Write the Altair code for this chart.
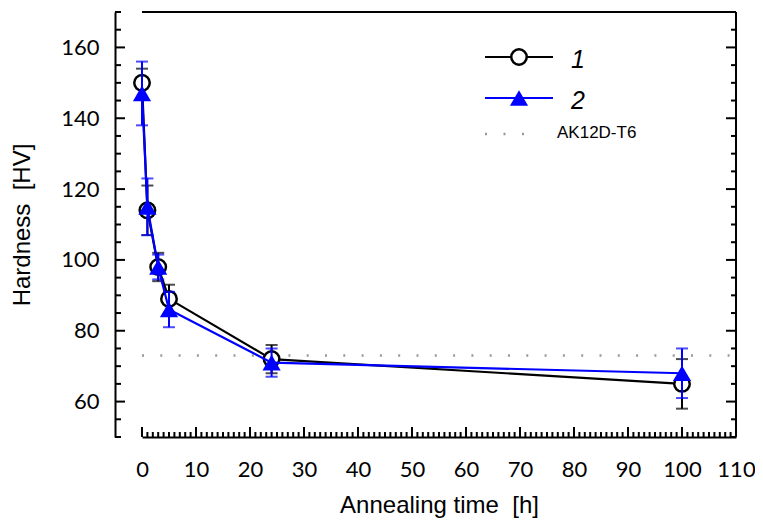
import altair as alt
import pandas as pd

# ---- data ----
time_h = [0, 1, 3, 5, 24, 100]
hv_1 = [150, 114, 98, 89, 72, 65]
err_1 = [4, 7, 4, 4, 4, 7]
hv_2 = [147, 115, 98, 86, 71, 68]
err_2 = [9, 8, 3.5, 5, 4, 7]
ref_value = 73
ref_label = "AK12D-T6"
series_labels = ["1", "2"]
x_title = "Annealing time\u00a0 [h]"
y_title = "Hardness\u00a0 [HV]"
x_major = list(range(0, 111, 10))
x_minor = list(range(0, 111, 1))
y_major = list(range(60, 161, 20))
y_minor = list(range(50, 171, 5))

W, H = 594, 425
LEFT = 134
xs = alt.Scale(domain=[0, 110], nice=False, zero=False)
ys = alt.Scale(domain=[50, 170], nice=False, zero=False)

x_axis = alt.Axis(values=x_major, ticks=False, tickSize=0, domain=True, domainColor="black",
                  domainWidth=2, labelFont="Lato", labelFontSize=22, labelColor="black",
                  labelPadding=22, labelFlush=False, labelOverlap=False, grid=False,
                  title=x_title, titleFont="Liberation Sans", titleFontSize=24,
                  titleFontWeight="normal", titleColor="black", titlePadding=13)
y_axis = alt.Axis(values=y_major, ticks=False, tickSize=0, domain=True, domainColor="black",
                  domainWidth=2, labelFont="Lato", labelFontSize=22, labelColor="black",
                  labelPadding=16, labelFlush=False, labelOverlap=False, grid=False, offset=27,
                  title=y_title, titleFont="Liberation Sans", titleFontSize=24,
                  titleFontWeight="normal", titleColor="black", titlePadding=26)


def X(field):
    return alt.X(field, type="quantitative", scale=xs, axis=x_axis)


def Y(field):
    return alt.Y(field, type="quantitative", scale=ys, axis=y_axis)


def series_df(vals, errs):
    return pd.DataFrame({
        "t": time_h,
        "hv": vals,
        "lo": [v - e for v, e in zip(vals, errs)],
        "hi": [v + e for v, e in zip(vals, errs)],
    })


d1 = series_df(hv_1, err_1)
d2 = series_df(hv_2, err_2)
one = pd.DataFrame({"a": [0]})

# reference dotted line
ref = alt.Chart(pd.DataFrame({"v": [ref_value]})).mark_rule(
    color="#999999", strokeWidth=2.5, strokeDash=[2, 16.3]).encode(
    y=Y("v"), x=alt.value(0), x2=alt.value(W))

# frame pieces (top and right)
top_line = alt.Chart(one).mark_rule(color="black", strokeWidth=2).encode(
    x=alt.value(0), x2=alt.value(W), y=alt.value(0))
right_line = alt.Chart(one).mark_rule(color="black", strokeWidth=2).encode(
    x=alt.value(W), y=alt.value(0), y2=alt.value(H))


def xticks(vals, length):
    return alt.Chart(pd.DataFrame({"v": vals})).mark_rule(color="black", strokeWidth=2).encode(
        x=X("v"), y=alt.value(H), y2=alt.value(H - length))


def yticks_left(vals, length):
    return alt.Chart(pd.DataFrame({"v": vals})).mark_rule(color="black", strokeWidth=2).encode(
        y=Y("v"), x=alt.value(-27), x2=alt.value(-27 + length))


def yticks_right(vals, length):
    return alt.Chart(pd.DataFrame({"v": vals})).mark_rule(color="black", strokeWidth=2).encode(
        y=Y("v"), x=alt.value(W), x2=alt.value(W - length))


minor_x = [v for v in x_minor if v not in x_major]
minor_y = [v for v in y_minor if v not in y_major]


def series_layers(df, color, point_mark):
    base = alt.Chart(df)
    bar = base.mark_rule(color=color, strokeWidth=2).encode(x=X("t"), y=Y("lo"), y2="hi:Q")
    cap_lo = base.mark_tick(color=color, orient="horizontal", size=12, thickness=2).encode(
        x=X("t"), y=Y("lo"))
    cap_hi = base.mark_tick(color=color, orient="horizontal", size=12, thickness=2).encode(
        x=X("t"), y=Y("hi"))
    line = base.mark_line(color=color, strokeWidth=2.2).encode(x=X("t"), y=Y("hv"))
    pts = base.mark_point(**point_mark).encode(x=X("t"), y=Y("hv"))
    return [bar, cap_lo, cap_hi, line, pts]


circle_mark = dict(shape="circle", size=240, filled=False, fill="white", fillOpacity=1,
                   stroke="black", strokeWidth=2.5, opacity=1)
tri_mark = dict(shape="triangle-up", size=330, filled=True, color="blue", opacity=1)

s1 = series_layers(d1, "black", circle_mark)
s2 = series_layers(d2, "blue", tri_mark)

# legend
leg_y = [45, 86]
lx0 = 343
leg = [
    alt.Chart(one).mark_rule(color="black", strokeWidth=2.2).encode(
        x=alt.value(lx0), x2=alt.value(lx0 + 68), y=alt.value(leg_y[0])),
    alt.Chart(one).mark_point(**circle_mark).encode(x=alt.value(lx0 + 34), y=alt.value(leg_y[0])),
    alt.Chart(one).mark_rule(color="blue", strokeWidth=2.2).encode(
        x=alt.value(lx0), x2=alt.value(lx0 + 68), y=alt.value(leg_y[1])),
    alt.Chart(one).mark_point(**tri_mark).encode(x=alt.value(lx0 + 34), y=alt.value(leg_y[1])),
    alt.Chart(one).mark_rule(color="#999999", strokeWidth=2.5, strokeDash=[2, 16.5]).encode(
        x=alt.value(lx0), x2=alt.value(lx0 + 42), y=alt.value(122)),
    alt.Chart(one).mark_text(
        align="left", baseline="alphabetic", font="Liberation Sans", fontStyle="italic",
        fontSize=25, color="black", text=series_labels[0]).encode(x=alt.value(lx0 + 86), y=alt.value(56)),
    alt.Chart(one).mark_text(
        align="left", baseline="alphabetic", font="Liberation Sans", fontStyle="italic",
        fontSize=25, color="black", text=series_labels[1]).encode(x=alt.value(lx0 + 86), y=alt.value(97)),
    alt.Chart(one).mark_text(
        align="left", baseline="middle", font="Liberation Sans", fontSize=17,
        color="black", text=ref_label).encode(x=alt.value(lx0 + 72), y=alt.value(121)),
]

layers = [ref, top_line, right_line,
          xticks(x_major, 10), xticks(minor_x, 5),
          yticks_left(y_major, 10), yticks_left(minor_y, 6),
          yticks_right(y_major, 10), yticks_right(minor_y, 5)] + s1 + s2 + leg

chart = alt.layer(*layers).properties(
    width=W, height=H,
    background="white",
    autosize=alt.AutoSizeParams(type="none"),
    padding={"left": LEFT, "top": 4, "right": 747 - LEFT - W, "bottom": 84},
).configure_view(stroke=None, strokeWidth=0)

chart.save("out.html", embed_options={"renderer": "svg", "actions": False})
